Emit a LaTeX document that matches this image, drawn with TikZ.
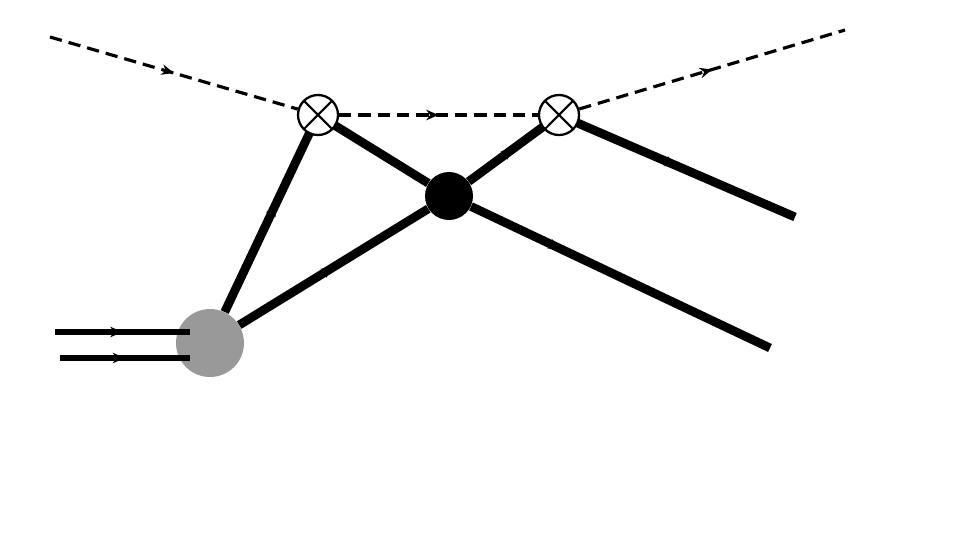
\documentclass[tikz,border=0pt]{standalone}
\usetikzlibrary{decorations.markings,arrows.meta}
\tikzset{
  midarrow/.style={postaction={decorate},decoration={markings,mark=at position #1 with {\arrow{Stealth[length=7pt,width=6pt]}}}},
  scalar/.style={dashed,line width=1.8pt,dash pattern=on 7pt off 4pt},
  fermion/.style={line width=5pt},
  incoming/.style={line width=3.5pt},
  vertexx/.style={circle,draw,line width=1.3pt,fill=white,minimum size=0.8cm,inner sep=0pt,path picture={
      \draw[line width=1.2pt] (path picture bounding box.north west)++(0.12,-0.12) -- ([xshift=-0.12cm,yshift=0.12cm]path picture bounding box.south east);
      \draw[line width=1.2pt] (path picture bounding box.north east)++(-0.12,-0.12) -- ([xshift=0.12cm,yshift=0.12cm]path picture bounding box.south west);}},
  blob/.style={circle,fill=black!40,minimum size=1.36cm,inner sep=0pt},
  dotvertex/.style={circle,fill=black,minimum size=0.96cm,inner sep=0pt}
}
\begin{document}
\begin{tikzpicture}[x=0.02cm,y=-0.02cm]
  \useasboundingbox (0,0) rectangle (973,552);
  \coordinate (sin) at (50,37);
  \coordinate (sout) at (845,30);
  \coordinate (f1) at (795,217);
  \coordinate (f2) at (770,348);
  \coordinate (p1) at (55,332);
  \coordinate (p2) at (60,358);
  \coordinate (q1) at (190,332);
  \coordinate (q2) at (190,358);
  \node[blob] (g) at (210,343) {};
  \node[dotvertex] (d) at (449,196) {};
  % lines
  \draw[fermion,midarrow=0.55] (g) -- (318,115);
  \draw[fermion,midarrow=0.5] (g) -- (d);
  \draw[fermion] (318,115) -- (d);
  \draw[fermion,midarrow=0.5] (d) -- (559,115);
  \draw[fermion,midarrow=0.3] (d) -- (f2);
  \draw[fermion,midarrow=0.5] (559,115) -- (f1);
  \draw[incoming,midarrow=0.5] (p1) -- (q1);
  \draw[incoming,midarrow=0.5] (p2) -- (q2);
  \node[vertexx] (x1) at (318,115) {};
  \node[vertexx] (x2) at (559,115) {};
  \draw[scalar,midarrow=0.5] (sin) -- (x1);
  \draw[scalar,midarrow=0.5] (x1) -- (x2);
  \draw[scalar,midarrow=0.5] (x2) -- (sout);
\end{tikzpicture}
\end{document}
